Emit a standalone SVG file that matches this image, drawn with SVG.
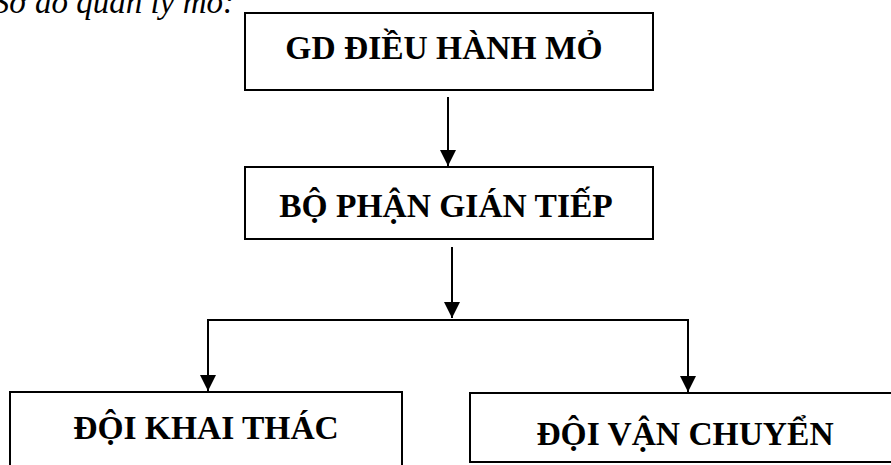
<svg xmlns="http://www.w3.org/2000/svg" width="891" height="465" viewBox="0 0 891 465">
<style>
.box{fill:#fff;stroke:#000;stroke-width:2}
.lbl{font-weight:bold;font-size:33.5px;fill:#000;text-anchor:middle}
.ttl{font-style:italic;font-size:33px;fill:#000;text-anchor:end}
.con{fill:none;stroke:#000;stroke-width:2}
</style>
<defs>
<marker id="ah" markerWidth="8" markerHeight="8" refX="8" refY="4" orient="auto" markerUnits="strokeWidth">
<path d="M0,0 L8,4 L0,8 Z" fill="#000"/>
</marker>
</defs>
<rect width="891" height="465" fill="#fff"/>
<text class="ttl" font-family="Liberation Serif, DejaVu Serif, serif" x="234" y="13">Sơ đồ quản lý mỏ:</text>
<g id="connectors">
<line class="con" x1="448" y1="97" x2="448" y2="166" marker-end="url(#ah)"/>
<line class="con" x1="452" y1="247" x2="452" y2="318" marker-end="url(#ah)"/>
<line class="con" x1="208" y1="320" x2="688" y2="320"/>
<line class="con" x1="208" y1="319" x2="208" y2="391" marker-end="url(#ah)"/>
<line class="con" x1="688" y1="319" x2="688" y2="392" marker-end="url(#ah)"/>
</g>
<g id="gd">
<rect class="box" x="245" y="13" width="408" height="77"/>
<text class="lbl" font-family="Liberation Serif, DejaVu Serif, serif" x="444" y="59">GD ĐIỀU HÀNH MỎ</text>
</g>
<g id="bophan">
<rect class="box" x="245" y="167" width="408" height="72"/>
<text class="lbl" font-family="Liberation Serif, DejaVu Serif, serif" x="446" y="217">BỘ PHẬN GIÁN TIẾP</text>
</g>
<g id="khaithac">
<rect class="box" x="10" y="392" width="392" height="90"/>
<text class="lbl" font-family="Liberation Serif, DejaVu Serif, serif" x="206" y="439">ĐỘI KHAI THÁC</text>
</g>
<g id="vanchuyen">
<rect class="box" x="470" y="393" width="440" height="69"/>
<text class="lbl" font-family="Liberation Serif, DejaVu Serif, serif" x="685" y="445">ĐỘI VẬN CHUYỂN</text>
</g>
</svg>
